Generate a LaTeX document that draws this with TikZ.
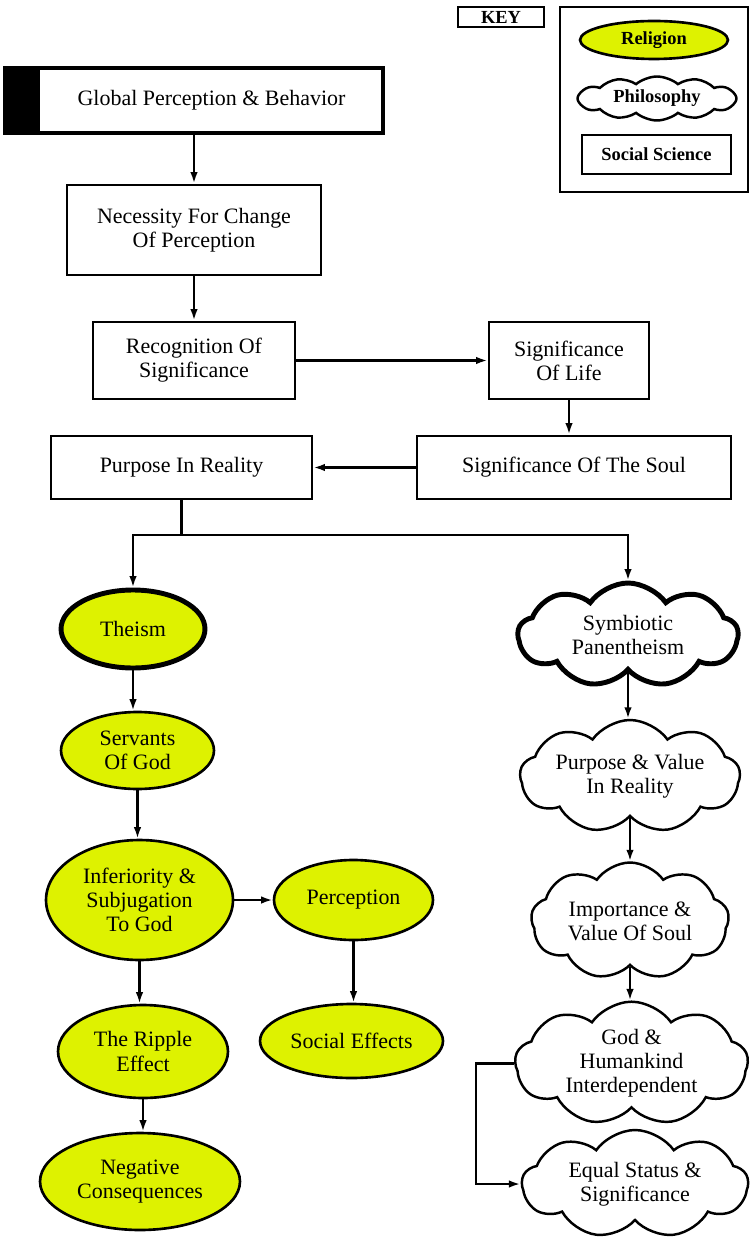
\documentclass[tikz,border=0pt]{standalone}
\usepackage{fontspec}
\setmainfont{Liberation Serif}
\usetikzlibrary{arrows.meta,shapes.geometric,shapes.symbols,positioning}
\definecolor{relyel}{RGB}{222,242,0}
\newcommand{\fs}{\fontsize{12.5}{13.7}\selectfont}
\tikzset{
  bx/.style={rectangle,draw=black,fill=white,line width=1.6pt,align=center,inner sep=2pt,font=\fs},
  rel/.style={ellipse,draw=black,fill=relyel,line width=1.5pt,align=center,inner sep=0pt,font=\fs},
  phl/.style={cloud,cloud puffs=9,cloud puff arc=110,cloud ignores aspect,draw=black,fill=white,line width=1.4pt,align=center,inner sep=0pt,font=\fs},
  arr/.style={-{Latex[length=2.3mm,width=1.5mm]},line width=1.5pt},
  lnk/.style={line width=1.5pt},
  ky/.style={font=\fontsize{10.5}{12}\selectfont\bfseries},
}

\begin{document}
\begin{tikzpicture}[x=0.02cm,y=-0.02cm]
\useasboundingbox (0,0) rectangle (752,1239);
% key
\node[ky,draw,line width=1pt,minimum width=1.72cm,minimum height=0.4cm,inner sep=0pt] (key) at (501,17) {KEY};
\node[draw,line width=1pt,minimum width=3.76cm,minimum height=3.7cm] (keyfr) at (654,99.5) {};
\node[rel,ky,minimum width=2.96cm,minimum height=0.76cm] (krel) at (654,40) {Religion};
\node[phl,ky,cloud puffs=12,cloud puff arc=80,minimum width=3.18cm,minimum height=0.88cm] (kphl) at (657,98.5) {Philosophy};
\node[bx,ky,minimum width=2.98cm,minimum height=0.78cm] (ksoc) at (656.5,154.5) {Social Science};
% boxes
\node[bx,line width=2.4pt,minimum width=7.56cm,minimum height=1.3cm,
  path picture={\fill[black] (path picture bounding box.south west) rectangle ([xshift=0.7cm]path picture bounding box.north west);}]
  (glob) at (194,100.5) {\hspace*{0.7cm}Global Perception \& Behavior};
\node[bx,minimum width=5.08cm,minimum height=1.8cm] (nec) at (194,230) {Necessity For Change\\Of Perception};
\node[bx,minimum width=4.04cm,minimum height=1.54cm] (rec) at (194,360.5) {Recognition Of\\Significance};
\node[bx,minimum width=3.2cm,minimum height=1.54cm] (life) at (569,360.5) {Significance\\Of Life};
\node[bx,minimum width=6.28cm,minimum height=1.26cm] (soul) at (574,467.5) {Significance Of The Soul};
\node[bx,minimum width=5.22cm,minimum height=1.26cm] (purp) at (181.5,467.5) {Purpose In Reality};
% religion
\node[rel,line width=2.8pt,minimum width=2.88cm,minimum height=1.56cm] (theism) at (133,629) {Theism};
\node[rel,minimum width=3.06cm,minimum height=1.54cm] (serv) at (137.5,750.5) {Servants\\Of God};
\node[rel,minimum width=3.74cm,minimum height=2.4cm] (infer) at (139.5,900) {Inferiority \&\\Subjugation\\To God};
\node[rel,minimum width=3.18cm,minimum height=1.6cm] (perc) at (353.5,900) {Perception};
\node[rel,minimum width=3.66cm,minimum height=1.48cm] (socef) at (351.5,1041) {Social Effects};
\node[rel,minimum width=3.4cm,minimum height=1.86cm] (ripple) at (143,1051.5) {The Ripple\\Effect};
\node[rel,minimum width=4.0cm,minimum height=1.94cm] (neg) at (140,1181.5) {Negative\\Consequences};
% philosophy
\node[phl,line width=2.8pt,minimum width=4.4cm,minimum height=2.08cm] (sym) at (628,635) {Symbiotic\\Panentheism};
\node[phl,minimum width=4.4cm,minimum height=2.26cm] (pv) at (630,776.5) {Purpose \& Value\\In Reality};
\node[phl,minimum width=3.96cm,minimum height=2.34cm] (imp) at (630,921) {Importance \&\\Value Of Soul};
\node[phl,minimum width=4.66cm,minimum height=2.34cm] (god) at (631.5,1063.5) {God \&\\Humankind\\Interdependent};
\node[phl,minimum width=4.52cm,minimum height=2.16cm] (eq) at (635,1184) {Equal Status \&\\Significance};
% connectors
\draw[arr] (glob) -- (nec);
\draw[arr] (nec) -- (rec);
\draw[arr] (rec) -- (life);
\draw[arr] (life.south) -- (life.south |- soul.north);
\draw[arr] (soul) -- (purp);
\coordinate (sp) at (181.5,535);
\draw[lnk] (purp.south) -- (sp);
\draw[arr] (sp) -| (theism.north);
\draw[arr] (sp) -| (sym.north);
\draw[arr] (theism.south) -- (theism.south |- serv.north);
\draw[arr] (serv.south) -- (serv.south |- infer.north);
\draw[arr] (infer) -- (perc);
\draw[arr] (perc.south) -- (perc.south |- socef.north);
\draw[arr] (infer.south) -- (infer.south |- ripple.north);
\draw[arr] (ripple.south) -- (ripple.south |- neg.north);
\draw[arr] (sym.south) -- (sym.south |- pv.north);
\draw[arr] (pv.south) -- (pv.south |- imp.north);
\draw[arr] (imp.south) -- (imp.south |- god.north);
\draw[arr] (god.west) -- ++(-38,0) |- (eq.west);
\end{tikzpicture}
\end{document}
